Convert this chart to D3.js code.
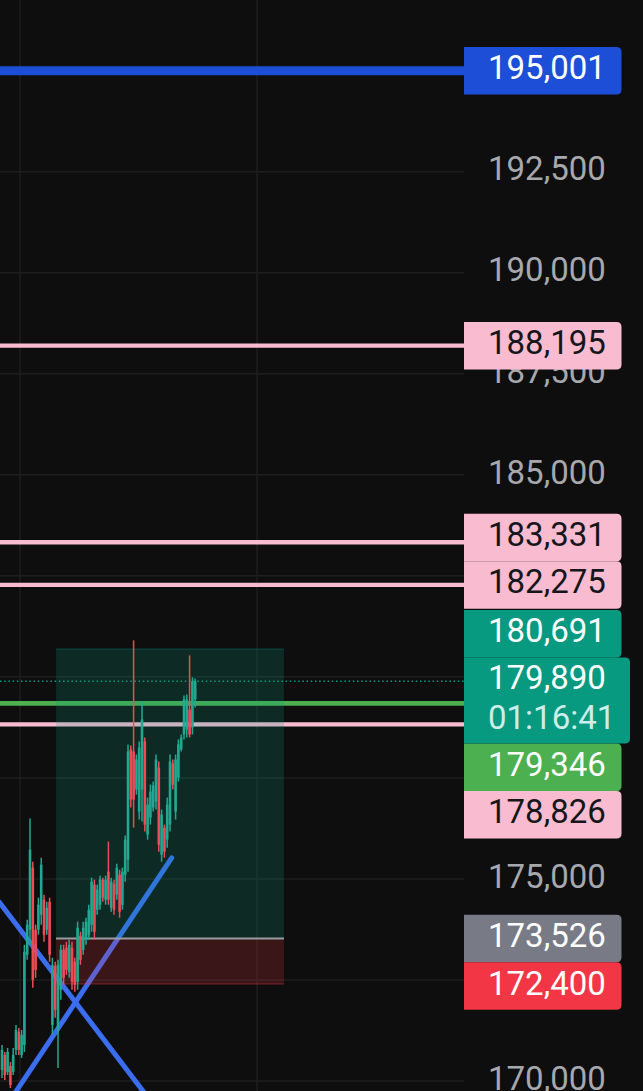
<!DOCTYPE html>
<html>
<head>
<meta charset="utf-8">
<script src="https://cdn.jsdelivr.net/npm/d3@7"></script>
<style>
  html, body { margin: 0; padding: 0; background: #0e0e0e; overflow: hidden; }
  svg { display: block; font-family: Roboto, "Noto Sans", sans-serif; }
</style>
</head>
<body>
<svg id="chart" width="643" height="1091"></svg>
<script>
// ── DATA ─────────────────────────────────────────────────────────────────────
const opens = [
  170273,170645,170224,170372,170224,170769,171215,170645,170893,173123,
  173742,175279,173742,173742,174114,174486,173742,174436,171388,172850,
  171264,172256,173247,173296,172702,173296,172949,172454,173594,173247,
  173495,173619,173866,174858,174238,174362,174981,174486,175180,174288,
  174882,174610,175105,174362,175105,175477,178203,178153,177212,176666,
  177212,178401,176097,176518,176766,176914,177757,175601,176270,175973,
  176344,177856,176666,177509,178203,178575,178698,179194,178748,179442
];
const highs = [
  170893,170719,170818,170471,170818,171388,171314,171264,173371,173990,
  176493,175427,173866,174535,175527,174610,174436,174535,173049,172949,
  172999,173371,173371,173445,173495,173445,173049,173941,173693,173941,
  174040,174362,175031,174981,174858,175081,175031,175081,175923,175031,
  174981,175378,175229,175279,176072,178327,178302,180904,178079,178401,
  179392,178500,177013,177336,177410,178079,177905,176716,176344,177013,
  178079,177955,178079,178451,178575,179541,179566,180532,179987,179962
];
const lows = [
  170075,170025,170149,169827,170149,170645,170645,170571,170719,172999,
  173371,172305,172553,173619,173866,173445,173619,172949,171141,171562,
  170323,172008,172380,172627,172553,172256,172206,172256,172875,173123,
  173371,173495,173693,173495,174114,174238,174436,174362,174362,174188,
  174114,174486,174040,174238,174932,175180,176766,176270,177088,176468,
  176419,176171,175973,176344,176666,176716,175675,175427,175527,175774,
  176171,177212,176468,177410,178153,178451,178500,178500,178575,179244
];
const closes = [
  170769,170149,170719,169902,170645,171264,170769,171141,173197,173866,
  175725,172503,172751,174362,175353,173619,174288,173123,172875,171760,
  172875,173247,172553,172751,173371,172454,172380,173792,172999,173792,
  173941,174238,174932,173693,174734,174981,174535,174981,174486,174932,
  174238,175279,174188,175180,175973,178153,176964,176964,177955,178252,
  178946,176344,176840,177162,177311,177955,175849,176592,175675,176840,
  177905,177336,177955,178327,178500,179442,179442,178575,179888,179890
];

const priceTicks = [170000,172500,175000,177500,180000,182500,185000,187500,190000,192500];
const timeGridBars = [6.4, 91.1];

const blueLevels  = [195001];
const pinkLevels  = [188195, 183331, 182275, 178826];
const greenLevels = [179346];

const targetPrice = 180691;
const entryPrice  = 173526;
const stopPrice   = 172400;
const positionBars = [19.3, 100.7];

const lastPrice = 179890;
const countdown = '01:16:41';

const trendDown = [[-1, 174429], [52, 169602]];
const trendUp   = [[3, 169532], [60.6, 175520]];

// ── COLOURS ──────────────────────────────────────────────────────────────────
const C = {
  bg: '#0e0e0e', grid: '#1e1e1e', tick: '#a7a8ad',
  up: '#22a890', down: '#ee4b57',
  blue: '#1d4ed8', trend: '#3a6df0', pink: '#f8bbd0', green: '#4caf50',
  teal: '#089981', gray: '#787b86', red: '#f23645'
};

// ── SETUP ────────────────────────────────────────────────────────────────────
const W = 643, H = 1091, plotR = 464;
const svg = d3.select('#chart');

const x = d3.scaleLinear().domain([0, 165]).range([2, 2 + 165 * 2.8]);
const y = d3.scaleLinear().domain([170000, 192500]).range([1081, 171.7]);

svg.append('rect').attr('width', W).attr('height', H).attr('fill', C.bg);

svg.append('defs').append('clipPath').attr('id', 'plot-clip')
  .append('rect').attr('width', plotR).attr('height', H);

const plot = svg.append('g').attr('clip-path', 'url(#plot-clip)');

// grid
plot.append('g').selectAll('line').data(priceTicks).join('line')
  .attr('x1', 0).attr('x2', plotR)
  .attr('y1', d => y(d)).attr('y2', d => y(d))
  .attr('stroke', C.grid).attr('stroke-width', 1.5);

plot.append('g').selectAll('line').data(timeGridBars).join('line')
  .attr('x1', d => x(d)).attr('x2', d => x(d))
  .attr('y1', 0).attr('y2', H)
  .attr('stroke', C.grid).attr('stroke-width', 1.5);

// horizontal levels
function levels(vals, color, width) {
  plot.append('g').selectAll('line').data(vals).join('line')
    .attr('x1', 0).attr('x2', plotR)
    .attr('y1', d => y(d)).attr('y2', d => y(d))
    .attr('stroke', color).attr('stroke-width', width);
}
levels(pinkLevels, C.pink, 4.3);
levels(greenLevels, C.green, 4.7);
levels(blueLevels, C.blue, 9);

// trend lines
const line = d3.line().x(d => x(d[0])).y(d => y(d[1]));
plot.append('g').selectAll('path').data([trendDown, trendUp]).join('path')
  .attr('d', line).attr('fill', 'none')
  .attr('stroke', C.trend).attr('stroke-width', 5).attr('stroke-linecap', 'round');

// long position box
const px0 = x(positionBars[0]), px1 = x(positionBars[1]);
plot.append('rect')
  .attr('x', px0).attr('width', px1 - px0)
  .attr('y', y(targetPrice)).attr('height', y(entryPrice) - y(targetPrice))
  .attr('fill', C.teal).attr('fill-opacity', 0.2);
plot.append('rect')
  .attr('x', px0).attr('width', px1 - px0)
  .attr('y', y(entryPrice)).attr('height', y(stopPrice) - y(entryPrice))
  .attr('fill', C.red).attr('fill-opacity', 0.2);
plot.append('line')
  .attr('x1', px0).attr('x2', px1).attr('y1', y(targetPrice)).attr('y2', y(targetPrice))
  .attr('stroke', C.teal).attr('stroke-opacity', 0.25).attr('stroke-width', 1.5);
plot.append('line')
  .attr('x1', px0).attr('x2', px1).attr('y1', y(stopPrice)).attr('y2', y(stopPrice))
  .attr('stroke', C.red).attr('stroke-opacity', 0.3).attr('stroke-width', 1.5);
plot.append('line')
  .attr('x1', px0).attr('x2', px1).attr('y1', y(entryPrice)).attr('y2', y(entryPrice))
  .attr('stroke', '#9a9ca3').attr('stroke-width', 2);

// last price dotted line
plot.append('line')
  .attr('x1', 0).attr('x2', plotR).attr('y1', y(lastPrice)).attr('y2', y(lastPrice))
  .attr('stroke', C.teal).attr('stroke-width', 1.6).attr('stroke-dasharray', '1.5 2.7');

// candles
const idx = d3.range(closes.length);
const candle = plot.append('g').selectAll('g').data(idx).join('g')
  .attr('fill', i => closes[i] >= opens[i] ? C.up : C.down)
  .attr('stroke', i => closes[i] >= opens[i] ? C.up : C.down);
candle.append('line')
  .attr('x1', i => x(i)).attr('x2', i => x(i))
  .attr('y1', i => y(highs[i])).attr('y2', i => y(lows[i]))
  .attr('stroke-width', 1.5);
candle.append('rect')
  .attr('stroke', 'none')
  .attr('x', i => x(i) - 1.3).attr('width', 2.6)
  .attr('y', i => y(Math.max(opens[i], closes[i])))
  .attr('height', i => Math.max(1, Math.abs(y(opens[i]) - y(closes[i]))));

// ── PRICE LABEL LAYOUT ───────────────────────────────────────────────────────
const fmt = d3.format(',');
const BOX_H = 47.5, BOX_W = 157.5, LAST_H = 86;
const labels = [
  { v: blueLevels[0], fill: C.blue, text: '#ffffff' },
  ...pinkLevels.map(v => ({ v, fill: C.pink, text: '#15161a' })),
  { v: targetPrice, fill: C.teal, text: '#ffffff' },
  { v: greenLevels[0], fill: C.green, text: '#ffffff' },
  { v: entryPrice, fill: C.gray, text: '#ffffff' },
  { v: stopPrice, fill: C.red, text: '#ffffff' }
];

// current price label is fixed; the rest are pushed away from it
const lastTop = y(lastPrice) - BOX_H / 2;
const lastBottom = lastTop + LAST_H;
const above = labels.filter(l => l.v > lastPrice).sort((a, b) => a.v - b.v);
const below = labels.filter(l => l.v < lastPrice).sort((a, b) => b.v - a.v);
let edge = lastTop;
above.forEach(l => { l.cy = Math.min(y(l.v), edge - BOX_H / 2); edge = l.cy - BOX_H / 2; });
edge = lastBottom;
below.forEach(l => { l.cy = Math.max(y(l.v), edge + BOX_H / 2); edge = l.cy + BOX_H / 2; });

const boxSpans = labels.map(l => [l.cy - BOX_H / 2, l.cy + BOX_H / 2])
  .concat([[lastTop, lastBottom]]);
const hidden = v => boxSpans.some(([t, b]) => y(v) >= t && y(v) <= b);

// ── PRICE AXIS ───────────────────────────────────────────────────────────────
const axis = svg.append('g').attr('transform', `translate(${plotR},0)`)
  .call(d3.axisRight(y).tickValues(priceTicks.filter(v => !hidden(v)))
    .tickSize(0).tickPadding(24).tickFormat(fmt));
axis.select('.domain').remove();
axis.selectAll('text')
  .attr('dy', '0.25em')
  .attr('fill', C.tick).attr('font-size', 33)
  .attr('font-family', 'Roboto, "Noto Sans", sans-serif');

// ── PRICE LABELS ─────────────────────────────────────────────────────────────
function boxPath(x0, y0, w, h, r) {
  return `M${x0},${y0}H${x0 + w - r}Q${x0 + w},${y0} ${x0 + w},${y0 + r}` +
    `V${y0 + h - r}Q${x0 + w},${y0 + h} ${x0 + w - r},${y0 + h}H${x0}Z`;
}

const lab = svg.append('g').attr('font-size', 33);
labels.forEach(l => {
  const top = l.cy - BOX_H / 2;
  lab.append('path').attr('d', boxPath(plotR, top, BOX_W, BOX_H, 5)).attr('fill', l.fill);
  lab.append('text').attr('x', 488).attr('y', l.cy + 8.5)
    .attr('fill', l.text).text(fmt(l.v));
});

lab.append('path').attr('d', boxPath(plotR, lastTop, 166, LAST_H, 5)).attr('fill', C.teal);
lab.append('text').attr('x', 488).attr('y', lastTop + 31)
  .attr('fill', '#ffffff').text(fmt(lastPrice));
lab.append('text').attr('x', 488).attr('y', lastTop + 71)
  .attr('fill', '#cdeee7').text(countdown);
</script>
</body>
</html>
